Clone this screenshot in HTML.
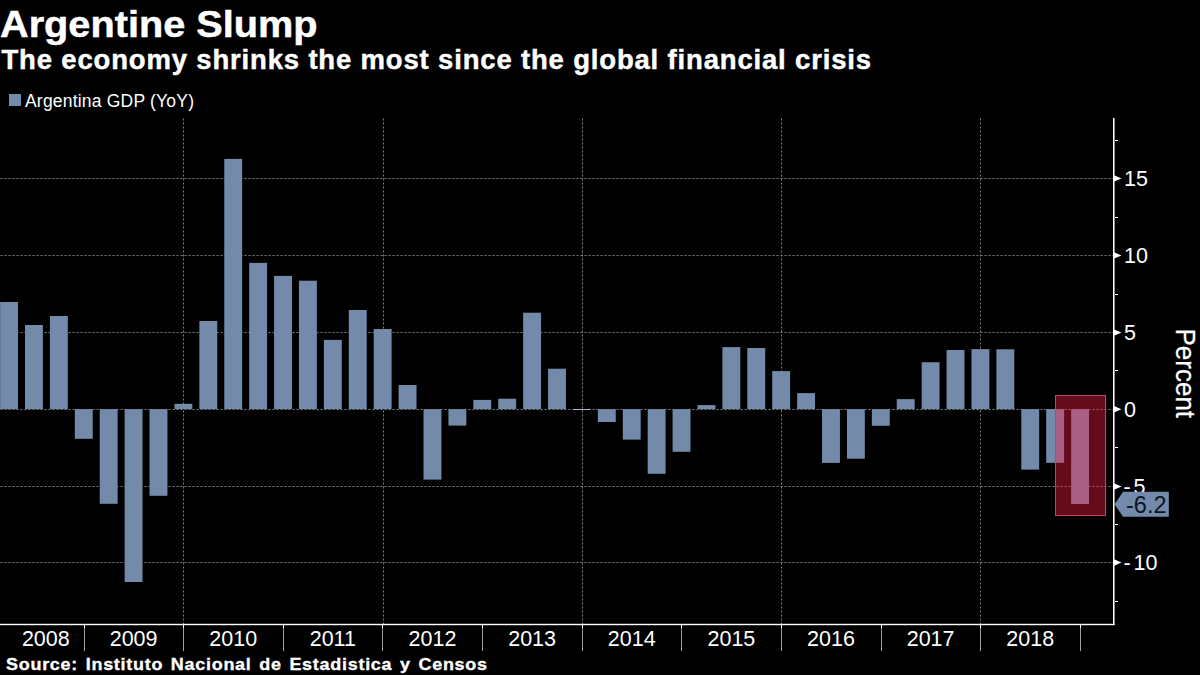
<!DOCTYPE html>
<html><head><meta charset="utf-8"><style>
html,body{margin:0;padding:0;background:#000;width:1200px;height:675px;overflow:hidden}
svg{display:block}
text{font-family:"Liberation Sans",sans-serif;fill:#fff}
.title{font-size:39.7px;font-weight:bold;stroke:#fff;stroke-width:0.5px}
.sub{font-size:27.5px;font-weight:bold;stroke:#fff;stroke-width:0.45px;letter-spacing:0.83px}
.leg{font-size:17.5px;letter-spacing:0.2px}
.src{font-size:18px;font-weight:bold;stroke:#fff;stroke-width:0.35px;letter-spacing:0.72px;word-spacing:2px}
.yr{font-size:21.5px}
.yl{font-size:21.5px}
.tag{font-size:23.5px;fill:#0d1424}
.pct{font-size:26px;stroke:#fff;stroke-width:0.25px}
</style></head><body>
<svg width="1200" height="675" viewBox="0 0 1200 675">
<rect width="1200" height="675" fill="#000"/>
<text transform="translate(0,36.7) scale(1,0.93)" class="title">Argentine Slump</text>
<text transform="translate(1.5,68.7) scale(1,0.98)" class="sub">The economy shrinks the most since the global financial crisis</text>
<rect x="9" y="94" width="12" height="12" fill="#738aaa"/>
<text x="25" y="106.9" class="leg">Argentina GDP (YoY)</text>
<line x1="0.5" y1="178.5" x2="1113" y2="178.5" stroke="#808080" stroke-width="1" stroke-dasharray="2 2"/>
<line x1="0.5" y1="255.5" x2="1113" y2="255.5" stroke="#808080" stroke-width="1" stroke-dasharray="2 2"/>
<line x1="0.5" y1="332.5" x2="1113" y2="332.5" stroke="#808080" stroke-width="1" stroke-dasharray="2 2"/>
<line x1="0.5" y1="409.5" x2="1113" y2="409.5" stroke="#808080" stroke-width="1" stroke-dasharray="2 2"/>
<line x1="0.5" y1="486.5" x2="1113" y2="486.5" stroke="#808080" stroke-width="1" stroke-dasharray="2 2"/>
<line x1="0.5" y1="562.5" x2="1113" y2="562.5" stroke="#808080" stroke-width="1" stroke-dasharray="2 2"/>
<line x1="183.5" y1="118.5" x2="183.5" y2="624" stroke="#808080" stroke-width="1" stroke-dasharray="2 2"/>
<line x1="383.5" y1="118.5" x2="383.5" y2="624" stroke="#808080" stroke-width="1" stroke-dasharray="2 2"/>
<line x1="582.5" y1="118.5" x2="582.5" y2="624" stroke="#808080" stroke-width="1" stroke-dasharray="2 2"/>
<line x1="781.5" y1="118.5" x2="781.5" y2="624" stroke="#808080" stroke-width="1" stroke-dasharray="2 2"/>
<line x1="980.5" y1="118.5" x2="980.5" y2="624" stroke="#808080" stroke-width="1" stroke-dasharray="2 2"/>
<rect x="0.10" y="302.00" width="17.9" height="107.10" fill="#738aaa"/>
<rect x="25.01" y="325.00" width="17.9" height="84.10" fill="#738aaa"/>
<rect x="49.91" y="316.00" width="17.9" height="93.10" fill="#738aaa"/>
<rect x="74.82" y="409.10" width="17.9" height="29.70" fill="#738aaa"/>
<rect x="99.73" y="409.10" width="17.9" height="94.70" fill="#738aaa"/>
<rect x="124.64" y="409.10" width="17.9" height="172.90" fill="#738aaa"/>
<rect x="149.54" y="409.10" width="17.9" height="86.70" fill="#738aaa"/>
<rect x="174.45" y="403.80" width="17.9" height="5.30" fill="#738aaa"/>
<rect x="199.36" y="321.00" width="17.9" height="88.10" fill="#738aaa"/>
<rect x="224.26" y="158.90" width="17.9" height="250.20" fill="#738aaa"/>
<rect x="249.17" y="262.90" width="17.9" height="146.20" fill="#738aaa"/>
<rect x="274.08" y="275.90" width="17.9" height="133.20" fill="#738aaa"/>
<rect x="298.98" y="280.70" width="17.9" height="128.40" fill="#738aaa"/>
<rect x="323.89" y="339.90" width="17.9" height="69.20" fill="#738aaa"/>
<rect x="348.80" y="310.00" width="17.9" height="99.10" fill="#738aaa"/>
<rect x="373.71" y="329.00" width="17.9" height="80.10" fill="#738aaa"/>
<rect x="398.61" y="385.00" width="17.9" height="24.10" fill="#738aaa"/>
<rect x="423.52" y="409.10" width="17.9" height="70.50" fill="#738aaa"/>
<rect x="448.43" y="409.10" width="17.9" height="16.50" fill="#738aaa"/>
<rect x="473.33" y="399.90" width="17.9" height="9.20" fill="#738aaa"/>
<rect x="498.24" y="398.70" width="17.9" height="10.40" fill="#738aaa"/>
<rect x="523.15" y="312.70" width="17.9" height="96.40" fill="#738aaa"/>
<rect x="548.05" y="368.70" width="17.9" height="40.40" fill="#738aaa"/>
<rect x="572.96" y="409" width="17.9" height="1" fill="#aeb6c8"/>
<rect x="597.87" y="409.10" width="17.9" height="12.90" fill="#738aaa"/>
<rect x="622.77" y="409.10" width="17.9" height="30.50" fill="#738aaa"/>
<rect x="647.68" y="409.10" width="17.9" height="64.70" fill="#738aaa"/>
<rect x="672.59" y="409.10" width="17.9" height="42.70" fill="#738aaa"/>
<rect x="697.50" y="405.10" width="17.9" height="4.00" fill="#738aaa"/>
<rect x="722.40" y="347.10" width="17.9" height="62.00" fill="#738aaa"/>
<rect x="747.31" y="348.00" width="17.9" height="61.10" fill="#738aaa"/>
<rect x="772.22" y="371.10" width="17.9" height="38.00" fill="#738aaa"/>
<rect x="797.12" y="393.10" width="17.9" height="16.00" fill="#738aaa"/>
<rect x="822.03" y="409.10" width="17.9" height="53.80" fill="#738aaa"/>
<rect x="846.94" y="409.10" width="17.9" height="49.60" fill="#738aaa"/>
<rect x="871.84" y="409.10" width="17.9" height="16.70" fill="#738aaa"/>
<rect x="896.75" y="399.10" width="17.9" height="10.00" fill="#738aaa"/>
<rect x="921.66" y="362.20" width="17.9" height="46.90" fill="#738aaa"/>
<rect x="946.57" y="350.00" width="17.9" height="59.10" fill="#738aaa"/>
<rect x="971.47" y="349.10" width="17.9" height="60.00" fill="#738aaa"/>
<rect x="996.38" y="349.30" width="17.9" height="59.80" fill="#738aaa"/>
<rect x="1021.29" y="409.10" width="17.9" height="60.50" fill="#738aaa"/>
<rect x="1046.19" y="409.10" width="17.9" height="53.70" fill="#738aaa"/>
<rect x="1071.10" y="409.10" width="17.9" height="94.90" fill="#738aaa"/>
<rect x="1055.5" y="395.5" width="50" height="120" fill="rgba(250,30,70,0.4)" stroke="#bc4a5e" stroke-width="1"/>
<rect x="0" y="623.8" width="1114.5" height="1.4" fill="#fff"/>
<rect x="1113" y="118" width="1.55" height="507" fill="#fff"/>
<rect x="84" y="624" width="1" height="4" fill="#fff"/>
<rect x="84" y="628" width="1" height="23" fill="#a0a0a0"/>
<rect x="183" y="624" width="1" height="4" fill="#fff"/>
<rect x="183" y="628" width="1" height="23" fill="#a0a0a0"/>
<rect x="283" y="624" width="1" height="4" fill="#fff"/>
<rect x="283" y="628" width="1" height="23" fill="#a0a0a0"/>
<rect x="382" y="624" width="1" height="4" fill="#fff"/>
<rect x="382" y="628" width="1" height="23" fill="#a0a0a0"/>
<rect x="482" y="624" width="1" height="4" fill="#fff"/>
<rect x="482" y="628" width="1" height="23" fill="#a0a0a0"/>
<rect x="582" y="624" width="1" height="4" fill="#fff"/>
<rect x="582" y="628" width="1" height="23" fill="#a0a0a0"/>
<rect x="681" y="624" width="1" height="4" fill="#fff"/>
<rect x="681" y="628" width="1" height="23" fill="#a0a0a0"/>
<rect x="781" y="624" width="1" height="4" fill="#fff"/>
<rect x="781" y="628" width="1" height="23" fill="#a0a0a0"/>
<rect x="881" y="624" width="1" height="4" fill="#fff"/>
<rect x="881" y="628" width="1" height="23" fill="#a0a0a0"/>
<rect x="980" y="624" width="1" height="4" fill="#fff"/>
<rect x="980" y="628" width="1" height="23" fill="#a0a0a0"/>
<rect x="1080" y="624" width="1" height="4" fill="#fff"/>
<rect x="1080" y="628" width="1" height="23" fill="#a0a0a0"/>
<text transform="translate(45.8,646.2) scale(1,1.06)" text-anchor="middle" class="yr">2008</text>
<text transform="translate(133.6,646.2) scale(1,1.06)" text-anchor="middle" class="yr">2009</text>
<text transform="translate(233.2,646.2) scale(1,1.06)" text-anchor="middle" class="yr">2010</text>
<text transform="translate(332.8,646.2) scale(1,1.06)" text-anchor="middle" class="yr">2011</text>
<text transform="translate(432.5,646.2) scale(1,1.06)" text-anchor="middle" class="yr">2012</text>
<text transform="translate(532.1,646.2) scale(1,1.06)" text-anchor="middle" class="yr">2013</text>
<text transform="translate(631.7,646.2) scale(1,1.06)" text-anchor="middle" class="yr">2014</text>
<text transform="translate(731.4,646.2) scale(1,1.06)" text-anchor="middle" class="yr">2015</text>
<text transform="translate(831.0,646.2) scale(1,1.06)" text-anchor="middle" class="yr">2016</text>
<text transform="translate(930.6,646.2) scale(1,1.06)" text-anchor="middle" class="yr">2017</text>
<text transform="translate(1030.2,646.2) scale(1,1.06)" text-anchor="middle" class="yr">2018</text>
<rect x="1115" y="140" width="3" height="1" fill="#fff"/>
<rect x="1115" y="217" width="3" height="1" fill="#fff"/>
<rect x="1115" y="294" width="3" height="1" fill="#fff"/>
<rect x="1115" y="370" width="3" height="1" fill="#fff"/>
<rect x="1115" y="447" width="3" height="1" fill="#fff"/>
<rect x="1115" y="524" width="3" height="1" fill="#fff"/>
<rect x="1115" y="601" width="3" height="1" fill="#fff"/>
<polygon points="1114,175.2 1121.5,178.4 1114,181.6" fill="#fff"/>
<text x="1124" y="186.2" class="yl">15</text>
<polygon points="1114,252.2 1121.5,255.4 1114,258.6" fill="#fff"/>
<text x="1124" y="263.2" class="yl">10</text>
<polygon points="1114,329.4 1121.5,332.6 1114,335.8" fill="#fff"/>
<text x="1124" y="340.4" class="yl">5</text>
<polygon points="1114,406.0 1121.5,409.2 1114,412.4" fill="#fff"/>
<text x="1124" y="417.0" class="yl">0</text>
<polygon points="1114,483.3 1121.5,486.5 1114,489.7" fill="#fff"/>
<text x="1123.5" y="494.3" class="yl">-</text>
<text x="1133.5" y="494.3" class="yl">5</text>
<polygon points="1114,559.3 1121.5,562.5 1114,565.7" fill="#fff"/>
<text x="1123.5" y="570.3" class="yl">-</text>
<text x="1133.5" y="570.3" class="yl">10</text>
<polygon points="1114.6,504.2 1123,491.8 1168.8,491.8 1168.8,516.7 1123,516.7" fill="#738aaa"/>
<text x="1126" y="512.8" class="tag">-6.2</text>
<text transform="translate(1175.5,328.5) rotate(90) scale(1,1.05)" class="pct">Percent</text>
<text transform="translate(6,669.5) scale(1,0.94)" class="src">Source: Instituto Nacional de Estadistica y Censos</text>
</svg>
</body></html>
